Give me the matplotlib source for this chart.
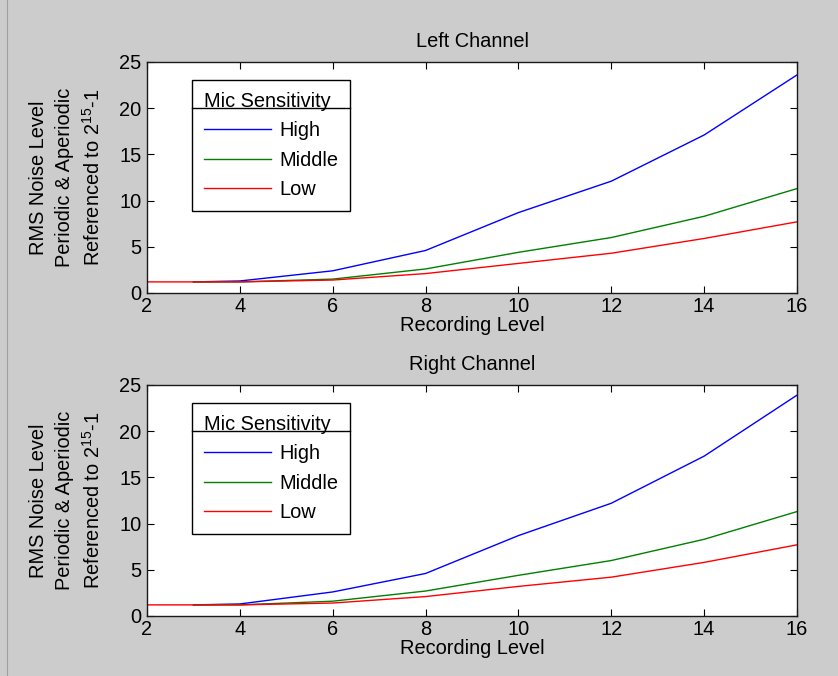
import numpy as np
import matplotlib
matplotlib.use('Agg')
import matplotlib.pyplot as plt
from matplotlib.lines import Line2D

# Data (Recording Level vs RMS noise)
level_hm = [3, 4, 6, 8, 10, 12, 14, 16]      # High / Middle start at level 3
level_low = [2, 4, 6, 8, 10, 12, 14, 16]     # Low starts at level 2

left_high = [1.2, 1.3, 2.4, 4.6, 8.7, 12.1, 17.1, 23.6]
left_middle = [1.2, 1.2, 1.5, 2.6, 4.4, 6.0, 8.3, 11.3]
left_low = [1.2, 1.2, 1.4, 2.1, 3.2, 4.3, 5.9, 7.7]

right_high = [1.2, 1.3, 2.6, 4.6, 8.7, 12.2, 17.3, 23.9]
right_middle = [1.2, 1.2, 1.6, 2.7, 4.4, 6.0, 8.3, 11.3]
right_low = [1.2, 1.2, 1.4, 2.1, 3.2, 4.2, 5.8, 7.7]

titles = ['Left Channel', 'Right Channel']
series_names = ['High', 'Middle', 'Low']
series_colors = ['#0000ff', '#008000', '#ff0000']
x_ticks = [2, 4, 6, 8, 10, 12, 14, 16]
y_ticks = [0, 5, 10, 15, 20, 25]

plt.rcParams['font.family'] = ['Liberation Sans', 'DejaVu Sans']
plt.rcParams['mathtext.default'] = 'regular'
plt.rcParams['font.size'] = 14.4

fig = plt.figure(figsize=(8.38, 6.76), dpi=100, facecolor='#cccccc')

# axes boxes in figure fractions (MATLAB-like layout)
axes_pos = [[0.1754, 0.5666, 0.7757, 0.3417],
            [0.1754, 0.0888, 0.7757, 0.3417]]
panel_data = [(left_high, left_middle, left_low),
              (right_high, right_middle, right_low)]

legends = []
for pos, title, data in zip(axes_pos, titles, panel_data):
    ax = fig.add_axes(pos)
    ax.set_facecolor('white')
    xs = [level_hm, level_hm, level_low]
    for x, y, name, c in zip(xs, data, series_names, series_colors):
        ax.plot(x, y, color=c, lw=1.0, label=name)
    ax.set_xlim(2, 16)
    ax.set_ylim(0, 25)
    ax.set_xticks(x_ticks)
    ax.set_yticks(y_ticks)
    ax.tick_params(direction='in', length=5, width=0.8, top=True, right=True,
                   labelsize=14.4, colors='black')
    ax.tick_params(axis='x', pad=3)
    ax.tick_params(axis='y', pad=4)
    for s in ax.spines.values():
        s.set_linewidth(1.0)
        s.set_color('#1a1a1a')
    ax.set_title(title, fontsize=14.4, pad=10.8)
    ax.set_xlabel('Recording Level', fontsize=14.4)
    ax.xaxis.set_label_coords(0.5, -0.10)
    ax.set_ylabel('RMS Noise Level\nPeriodic & Aperiodic\nReferenced to 2$^{15}$-1',
                  fontsize=14.4, linespacing=1.45)
    ax.yaxis.set_label_coords(-0.066, 0.5)

    leg = ax.legend(title='Mic Sensitivity', loc='upper left',
                    bbox_to_anchor=(0.0692, 0.922), borderaxespad=0,
                    fancybox=False, framealpha=1, edgecolor='black',
                    handlelength=3.35, handletextpad=0.4, labelspacing=0.52,
                    borderpad=0.6, fontsize=14.4, title_fontsize=14.4,
                    alignment='left')
    leg.get_frame().set_linewidth(1.0)
    legends.append(leg)

# underline below the legend title, spanning the legend box
fig.canvas.draw()
renderer = fig.canvas.get_renderer()
for leg in legends:
    fb = leg.get_frame().get_window_extent(renderer)
    tb = leg.get_title().get_window_extent(renderer)
    yline = tb.y0 + 3
    fig.add_artist(Line2D([fb.x0, fb.x1], [yline, yline], transform=None,
                          color='black', lw=1.0))

# window edge line on the left
fig.add_artist(Line2D([7 / 838, 7 / 838], [0, 1], transform=fig.transFigure,
                      color='#a0a0a0', lw=0.8))

fig.savefig('out.png', dpi=100, facecolor=fig.get_facecolor())
